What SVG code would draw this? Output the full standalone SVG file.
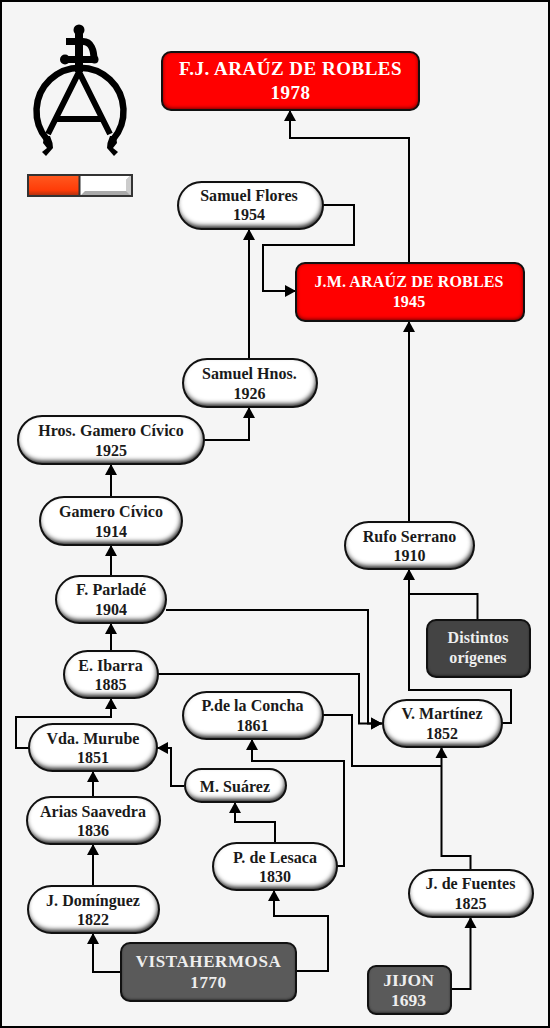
<svg xmlns="http://www.w3.org/2000/svg" width="550" height="1028" viewBox="0 0 550 1028">
<style>
.t{font-family:"Liberation Serif","Times New Roman",serif;font-weight:700;font-size:16px;text-anchor:middle;fill:#1a1a1a;letter-spacing:.05px}
.w{fill:#fff}
.g{fill:#eee}
.lg{font-size:19px;letter-spacing:.5px}
.md{font-size:16px;letter-spacing:.15px}
.vh{font-size:17px;letter-spacing:.6px}
.ji{font-size:17.500px;letter-spacing:0}
.p{fill:#fff;filter:url(#bev)}
.r{fill:#ff0000;filter:url(#bevR)}
.d{fill:#5a5a5a;filter:url(#bevD)}
.d2{fill:#444;filter:url(#bevD)}
.o{fill:none;stroke:#111;stroke-width:2}
.c{fill:none;stroke:#000;stroke-width:2;marker-end:url(#a)}
.n{fill:none;stroke:#000;stroke-width:2}
.k{fill:none;stroke:#000}
</style>
<defs>
<marker id="a" markerUnits="userSpaceOnUse" markerWidth="12" markerHeight="13" refX="11" refY="6.500" orient="auto"><path d="M0,0.500L11,6.500L0,12.500z" fill="#000"/></marker>
<filter id="bev" x="-5%" y="-10%" width="110%" height="120%" color-interpolation-filters="sRGB">
<feGaussianBlur in="SourceAlpha" stdDeviation="2.4" result="b"/>
<feOffset in="b" dx="-1" dy="-3" result="o"/>
<feComposite in="SourceAlpha" in2="o" operator="out" result="i"/>
<feFlood flood-color="#000" flood-opacity=".9"/>
<feComposite in2="i" operator="in" result="s"/>
<feMerge><feMergeNode in="SourceGraphic"/><feMergeNode in="s"/></feMerge>
</filter>
<filter id="bevR" x="-5%" y="-10%" width="110%" height="120%" color-interpolation-filters="sRGB">
<feGaussianBlur in="SourceAlpha" stdDeviation="2" result="b"/>
<feOffset in="b" dx="0" dy="-1.500" result="o"/>
<feComposite in="SourceAlpha" in2="o" operator="out" result="i"/>
<feFlood flood-color="#300"/>
<feComposite in2="i" operator="in" result="s"/>
<feMerge><feMergeNode in="SourceGraphic"/><feMergeNode in="s"/></feMerge>
</filter>
<filter id="bevD" x="-5%" y="-10%" width="110%" height="120%" color-interpolation-filters="sRGB">
<feGaussianBlur in="SourceAlpha" stdDeviation="1.800" result="b"/>
<feOffset in="b" dx="0" dy="-1" result="o"/>
<feComposite in="SourceAlpha" in2="o" operator="out" result="i"/>
<feFlood flood-color="#111"/>
<feComposite in2="i" operator="in" result="s"/>
<feMerge><feMergeNode in="SourceGraphic"/><feMergeNode in="s"/></feMerge>
</filter>
<linearGradient id="og" x1="0" y1="0" x2="0" y2="1"><stop offset="0" stop-color="#ff5a20"/><stop offset=".72" stop-color="#ff3c08"/><stop offset="1" stop-color="#a83010"/></linearGradient>
</defs>
<rect x="0" y="0" width="550" height="1028" fill="#f5f5f5"/>
<rect x="1" y="1" width="548" height="1026" fill="none" stroke="#000" stroke-width="2"/>

<g id="logo">
<path class="k" stroke-width="6.500" d="M47,139.500A43.500,43.500 0 1 1 113,139.500"/>
<path class="k" stroke-width="6" d="M48,134L79,72L110,134M57,119H102"/>
<path class="k" stroke-width="8" d="M79,32V72"/>
<path class="k" stroke-width="7" d="M66,41.500H83C91,41.500 94,50 94,60M65,59.500H94"/>
<circle cx="79" cy="30" r="5.500"/><circle cx="65" cy="59.500" r="5"/><circle cx="94.500" cy="59.500" r="4"/>
<path d="M44,136L43,143L47,148L42,152L46,156L53,148L52.500,143L50,136zM116,136L117,143L113,148L118,152L114,156L107,148L107.500,143L110,136z"/>
</g>
<g id="legend">
<rect x="29" y="175" width="50" height="21" fill="url(#og)"/>
<rect x="80" y="175" width="51" height="21" fill="#fff"/>
<path d="M131,175V196H80L85,191H126V180z" fill="#aaa"/>
<path d="M131,175L126,180V191L131,196z" fill="#ccc"/>
<path d="M28,175H132V196H28zM79.500,175V196" fill="none" stroke="#333" stroke-width="2"/>
</g>

<g id="connectors">
<path class="c" d="M409,263V138H290V110"/>
<path class="c" d="M323,205H354V245H263V291H296"/>
<path class="c" d="M249,359V229"/>
<path class="c" d="M409,522V321"/>
<path class="c" d="M204,440H249V407"/>
<path class="c" d="M111,497V464"/>
<path class="c" d="M111,575V545"/>
<path class="c" d="M111,651V623"/>
<path class="c" d="M29,748H16V717H111V698"/>
<path class="c" d="M93,797V771"/>
<path class="c" d="M93,886V844"/>
<path class="c" d="M121,972H93V933"/>
<path class="c" d="M296,971H328V916H274V890"/>
<path class="c" d="M275,843V822H235V802"/>
<path class="c" d="M337,866H344V761H252V739"/>
<path class="c" d="M184,786H171V748H157"/>
<path class="n" d="M323,715H352V766H441"/>
<path class="c" d="M470.500,870V856H441.500V747"/>
<path class="c" d="M451,989H470.500V917"/>
<path class="c" d="M166,610H368V723.500H382"/>
<path class="c" d="M158,674H359V723.500H382"/>
<path class="c" d="M502,723H511V690H409V569"/>
<path class="n" d="M477.500,619V594H409"/>
</g>

<g id="n-fj"><rect class="r" x="162" y="52" width="257" height="58" rx="9"/><rect class="o" x="162" y="52" width="257" height="58" rx="9"/><text class="t w lg" x="290.500" y="75">F.J. ARAÚZ DE ROBLES</text><text class="t w lg" x="290.500" y="99">1978</text></g>
<g id="n-sf"><rect class="p" x="178" y="182" width="145" height="47" rx="23.500"/><rect class="o" x="178" y="182" width="145" height="47" rx="23.500"/><text class="t" x="249" y="201">Samuel Flores</text><text class="t" x="249" y="220">1954</text></g>
<g id="n-jm"><rect class="r" x="296" y="263" width="228" height="58" rx="9"/><rect class="o" x="296" y="263" width="228" height="58" rx="9"/><text class="t w md" x="409" y="287">J.M. ARAÚZ DE ROBLES</text><text class="t w md" x="409" y="307">1945</text></g>
<g id="n-sh"><rect class="p" x="183" y="359" width="134" height="48" rx="24"/><rect class="o" x="183" y="359" width="134" height="48" rx="24"/><text class="t" x="249.500" y="379">Samuel Hnos.</text><text class="t" x="249.500" y="399">1926</text></g>
<g id="n-hg"><rect class="p" x="18" y="416" width="186" height="48" rx="24"/><rect class="o" x="18" y="416" width="186" height="48" rx="24"/><text class="t" x="111" y="436">Hros. Gamero Cívico</text><text class="t" x="111" y="456">1925</text></g>
<g id="n-gc"><rect class="p" x="40" y="497" width="142" height="48" rx="24"/><rect class="o" x="40" y="497" width="142" height="48" rx="24"/><text class="t" x="111" y="517">Gamero Cívico</text><text class="t" x="111" y="537">1914</text></g>
<g id="n-fp"><rect class="p" x="56" y="576" width="110" height="47" rx="23.500"/><rect class="o" x="56" y="576" width="110" height="47" rx="23.500"/><text class="t" x="111" y="595">F. Parladé</text><text class="t" x="111" y="615">1904</text></g>
<g id="n-ei"><rect class="p" x="64" y="651" width="94" height="47" rx="23.500"/><rect class="o" x="64" y="651" width="94" height="47" rx="23.500"/><text class="t" x="110.500" y="671">E. Ibarra</text><text class="t" x="110.500" y="690">1885</text></g>
<g id="n-vm"><rect class="p" x="29" y="724" width="128" height="47" rx="23.500"/><rect class="o" x="29" y="724" width="128" height="47" rx="23.500"/><text class="t" x="93" y="744">Vda. Murube</text><text class="t" x="93" y="763">1851</text></g>
<g id="n-as"><rect class="p" x="27" y="797" width="133" height="47" rx="23.500"/><rect class="o" x="27" y="797" width="133" height="47" rx="23.500"/><text class="t" x="93" y="817">Arias Saavedra</text><text class="t" x="93" y="836">1836</text></g>
<g id="n-jd"><rect class="p" x="28" y="886" width="131" height="47" rx="23.500"/><rect class="o" x="28" y="886" width="131" height="47" rx="23.500"/><text class="t" x="93" y="906">J. Domínguez</text><text class="t" x="93" y="925">1822</text></g>
<g id="n-vh"><rect class="d" x="121" y="943" width="175" height="58" rx="9"/><rect class="o" x="121" y="943" width="175" height="58" rx="9"/><text class="t g vh" x="208.500" y="967">VISTAHERMOSA</text><text class="t g vh" x="208.500" y="988">1770</text></g>
<g id="n-pc"><rect class="p" x="183" y="692" width="140" height="47" rx="23.500"/><rect class="o" x="183" y="692" width="140" height="47" rx="23.500"/><text class="t" x="252.500" y="711">P.de la Concha</text><text class="t" x="252.500" y="731">1861</text></g>
<g id="n-ms"><rect class="p" x="185" y="769" width="101" height="33" rx="16.500"/><rect class="o" x="185" y="769" width="101" height="33" rx="16.500"/><text class="t" x="235" y="792">M. Suárez</text></g>
<g id="n-pl"><rect class="p" x="213" y="843" width="124" height="47" rx="23.500"/><rect class="o" x="213" y="843" width="124" height="47" rx="23.500"/><text class="t" x="275" y="863">P. de Lesaca</text><text class="t" x="275" y="882">1830</text></g>
<g id="n-vt"><rect class="p" x="383" y="700" width="119" height="47" rx="23.500"/><rect class="o" x="383" y="700" width="119" height="47" rx="23.500"/><text class="t" x="442" y="719">V. Martínez</text><text class="t" x="442" y="739">1852</text></g>
<g id="n-jf"><rect class="p" x="409" y="870" width="124" height="47" rx="23.500"/><rect class="o" x="409" y="870" width="124" height="47" rx="23.500"/><text class="t" x="470.500" y="889">J. de Fuentes</text><text class="t" x="470.500" y="909">1825</text></g>
<g id="n-rs"><rect class="p" x="345" y="522" width="129" height="47" rx="23.500"/><rect class="o" x="345" y="522" width="129" height="47" rx="23.500"/><text class="t" x="409.500" y="542">Rufo Serrano</text><text class="t" x="409.500" y="561">1910</text></g>
<g id="n-do"><rect class="d2" x="427" y="620" width="103" height="57" rx="9"/><rect class="o" x="427" y="620" width="103" height="57" rx="9"/><text class="t g" x="478" y="643">Distintos</text><text class="t g" x="478" y="663">orígenes</text></g>
<g id="n-ji"><rect class="d" x="368" y="966" width="83" height="48" rx="8"/><rect class="o" x="368" y="966" width="83" height="48" rx="8"/><text class="t g ji" x="408.500" y="986">JIJON</text><text class="t g ji" x="408.500" y="1006">1693</text></g>
</svg>
